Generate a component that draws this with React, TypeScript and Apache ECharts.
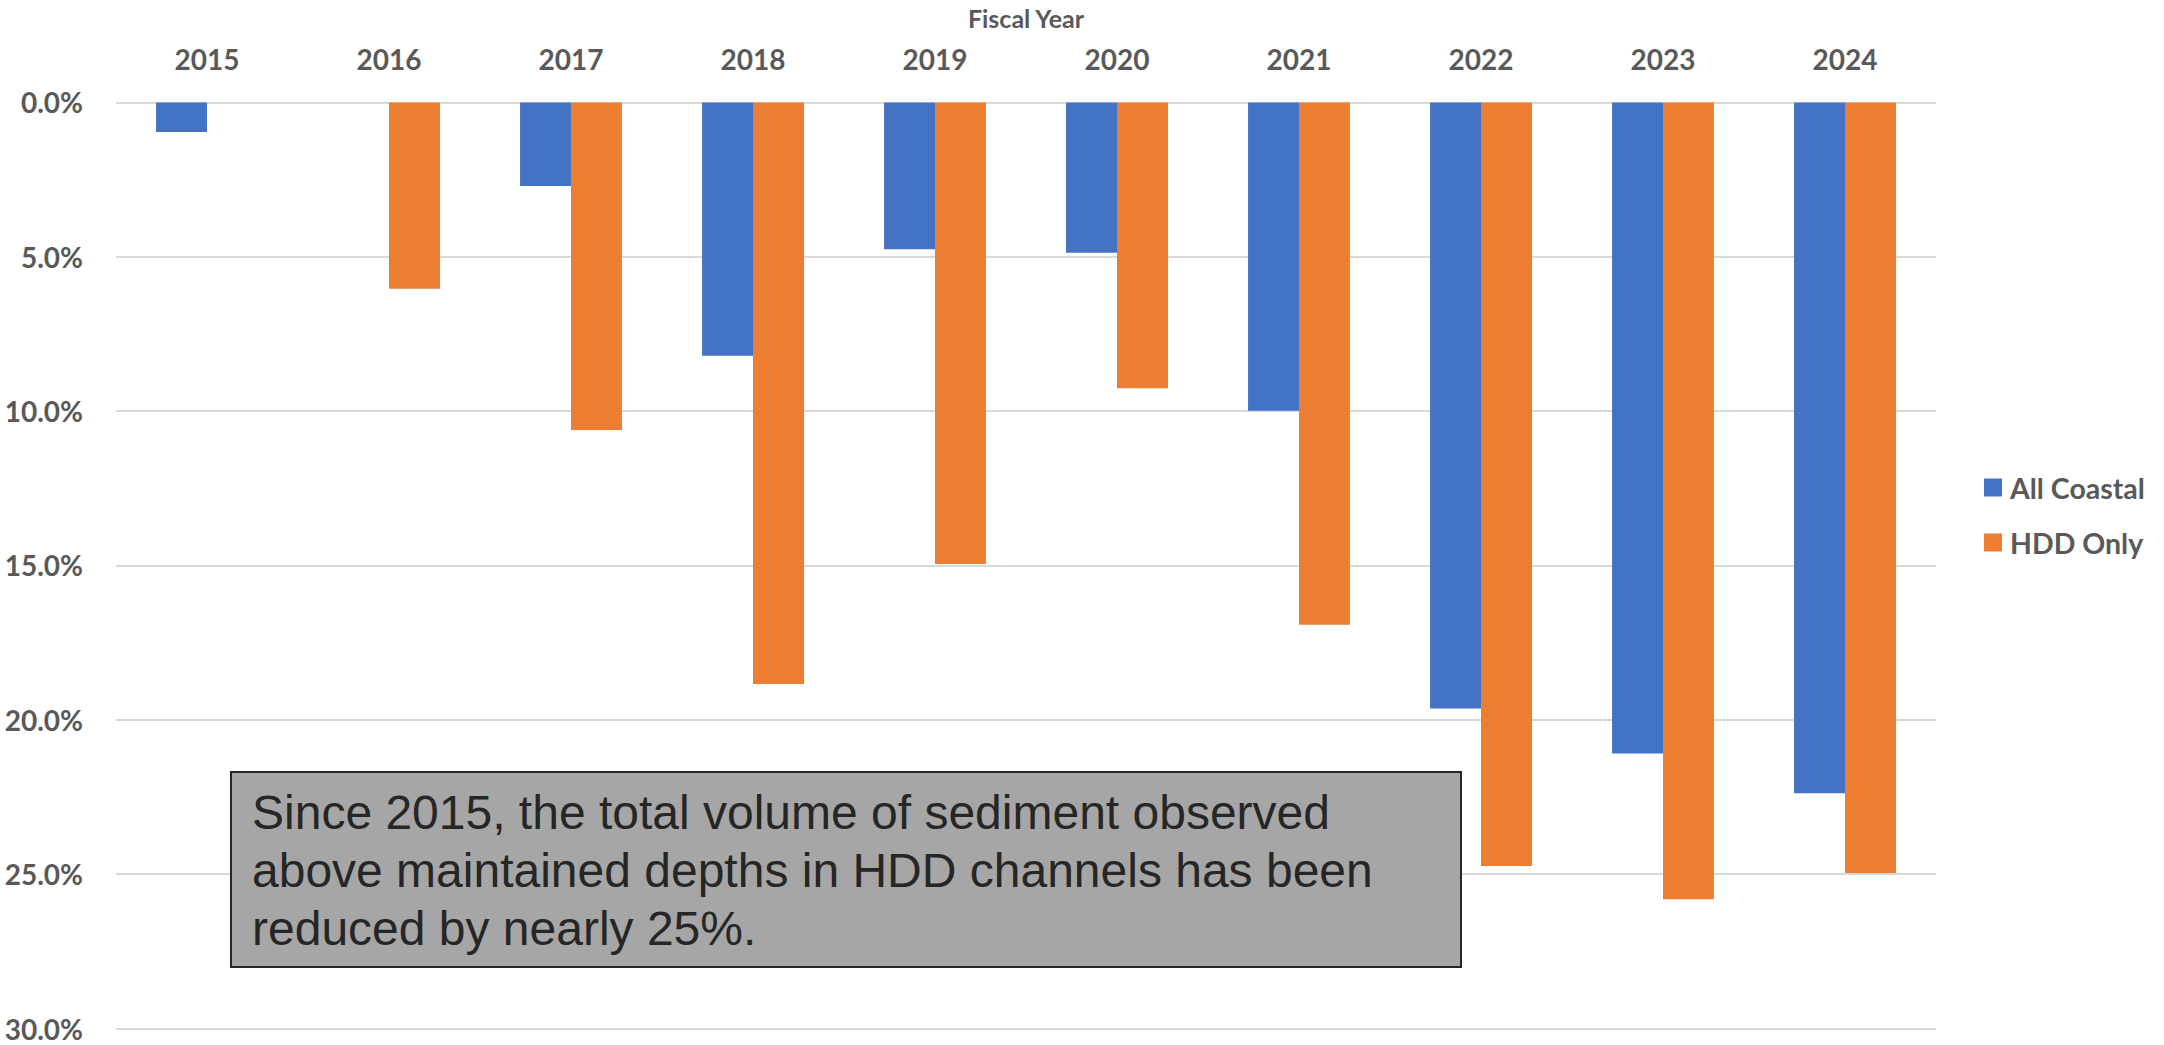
import React, { useEffect, useRef } from "react";
import * as echarts from "echarts";

// Sediment above maintained depth, share of total, by fiscal year
const fiscalYears = ["2015", "2016", "2017", "2018", "2019", "2020", "2021", "2022", "2023", "2024"];
const allCoastal = [0.96, null, 2.71, 8.21, 4.76, 4.87, 9.99, 19.63, 21.09, 22.38];
const hddOnly = [null, 6.04, 10.61, 18.84, 14.95, 9.26, 16.92, 24.74, 25.81, 24.96];
const seriesNames = ["All Coastal", "HDD Only"];
const noteLines = [
  "Since 2015, the total volume of sediment observed",
  "above maintained depths in HDD channels has been",
  "reduced by nearly 25%.",
];

const LABEL_FONT = "Lato, 'Open Sans', sans-serif";
const LABEL_COLOR = "#595959";

export default function App() {
  const ref = useRef<HTMLDivElement>(null);

  useEffect(() => {
    if (!ref.current) return;
    const chart = echarts.init(ref.current, null, { renderer: "svg" });
    chart.setOption({
      animation: false,
      backgroundColor: "#ffffff",
      grid: { left: 116, right: 228, top: 102.4, bottom: 16.5, containLabel: false },
      legend: {
        orient: "vertical",
        left: 1979,
        top: 468,
        icon: "rect",
        itemWidth: 18,
        itemHeight: 18,
        itemGap: 26,
        data: seriesNames,
        textStyle: {
          fontFamily: LABEL_FONT,
          fontWeight: "bold",
          fontSize: 28.5,
          color: LABEL_COLOR,
          padding: [0, 0, 0, 3],
        },
      },
      xAxis: {
        type: "category",
        position: "top",
        data: fiscalYears,
        name: "Fiscal Year",
        nameLocation: "middle",
        nameGap: 72,
        nameTextStyle: { fontFamily: LABEL_FONT, fontWeight: "bold", fontSize: 25, color: LABEL_COLOR },
        axisLine: { show: false },
        axisTick: { show: false },
        axisLabel: { fontFamily: LABEL_FONT, fontWeight: "bold", fontSize: 28, color: LABEL_COLOR, margin: 29 },
      },
      yAxis: {
        type: "value",
        inverse: true,
        min: 0,
        max: 30,
        interval: 5,
        axisLine: { show: false },
        axisTick: { show: false },
        axisLabel: {
          fontFamily: LABEL_FONT,
          fontWeight: "bold",
          fontSize: 28,
          color: LABEL_COLOR,
          margin: 33,
          formatter: (v: number) => v.toFixed(1) + "%",
        },
        splitLine: { lineStyle: { color: "#d9d9d9", width: 2 } },
      },
      series: [
        {
          name: seriesNames[0],
          type: "bar",
          data: allCoastal,
          itemStyle: { color: "#4472C4" },
          barGap: "0%",
          barCategoryGap: "44%",
        },
        {
          name: seriesNames[1],
          type: "bar",
          data: hddOnly,
          itemStyle: { color: "#ED7D31" },
          barGap: "0%",
          barCategoryGap: "44%",
        },
      ],
      graphic: [
        {
          type: "group",
          left: 230,
          top: 771,
          z: 100,
          children: [
            {
              type: "rect",
              z: 100,
              shape: { x: 0, y: 0, width: 1230, height: 195 },
              style: { fill: "#a6a6a6", stroke: "#262626", lineWidth: 2 },
            },
            {
              type: "text",
              z: 101,
              x: 21,
              y: 11,
              style: {
                text: noteLines.join("\n"),
                fontFamily: "'Liberation Sans', Arial, sans-serif",
                fontSize: 48,
                lineHeight: 58,
                fill: "#262626",
                verticalAlign: "top",
              },
            },
          ],
        },
      ],
    });
    return () => chart.dispose();
  }, []);

  return (
    <div
      ref={ref}
      style={{ position: "fixed", left: 0, top: 0, width: 2164, height: 1045 }}
    />
  );
}
